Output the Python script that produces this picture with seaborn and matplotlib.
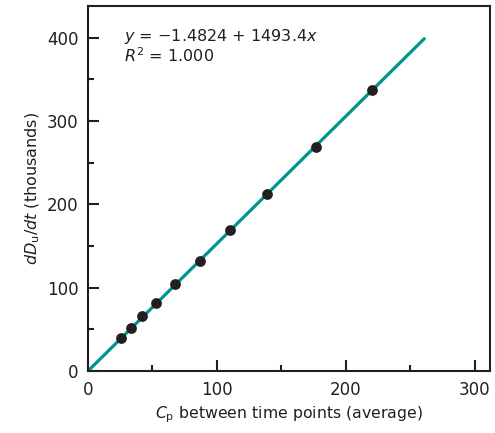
import matplotlib
matplotlib.use("Agg")
import matplotlib.pyplot as plt
import seaborn as sns
import pandas as pd
from matplotlib.ticker import MultipleLocator

# data
cp_avg = [25.4, 33.4, 42.2, 53.1, 67.8, 87.0, 110.3, 138.9, 176.9, 220.7]
ddu_dt = [39.6, 51.6, 65.6, 81.6, 104.0, 132.0, 168.8, 212.4, 268.8, 336.8]
fit_x = [0, 261]
fit_y = [0, 398.8]
x_ticks = [0, 100, 200, 300]
y_ticks = [0, 100, 200, 300, 400]

INK = "#231f20"
TEAL = "#00948f"

sns.set_style("ticks", {"xtick.direction": "in", "ytick.direction": "in"})
plt.rcParams["font.family"] = ["DejaVu Sans"]
plt.rcParams["mathtext.fontset"] = "dejavusans"

points = pd.DataFrame({"cp": cp_avg, "rate": ddu_dt})
fit = pd.DataFrame({"cp": fit_x, "rate": fit_y})

fig = plt.figure(figsize=(4.95, 4.33), dpi=100)
ax = fig.add_axes([0.1778, 0.1432, 0.8121, 0.8429])

sns.lineplot(data=fit, x="cp", y="rate", color=TEAL, linewidth=2.3, ax=ax, zorder=2)
sns.scatterplot(data=points, x="cp", y="rate", color=INK, s=60, edgecolor=INK,
                linewidth=0, ax=ax, zorder=3)

ax.set_xlim(0, 312)
ax.set_ylim(0, 438)
ax.set_xticks(x_ticks)
ax.set_yticks(y_ticks)
ax.xaxis.set_minor_locator(MultipleLocator(50))
ax.yaxis.set_minor_locator(MultipleLocator(50))
ax.tick_params(which="major", direction="in", length=8, width=1.5, colors=INK,
               labelsize=12, pad=7)
ax.tick_params(which="minor", direction="in", length=4.5, width=1.5, colors=INK)
for side in ax.spines.values():
    side.set_linewidth(1.5)
    side.set_color(INK)

ax.set_xlabel(r"$C_{\mathrm{p}}$ between time points (average)", fontsize=11.3,
              color=INK, labelpad=4)
ax.set_ylabel(r"$dD_{\mathrm{u}}/dt$ (thousands)", fontsize=11.5, color=INK, labelpad=3)

ax.text(28, 401, "$y$ = \u22121.4824 + 1493.4$x$", fontsize=11.5, color=INK, va="center")
ax.text(28, 378, "$R^2$ = 1.000", fontsize=11.5, color=INK, va="center")

fig.savefig("out.png", dpi=100)
